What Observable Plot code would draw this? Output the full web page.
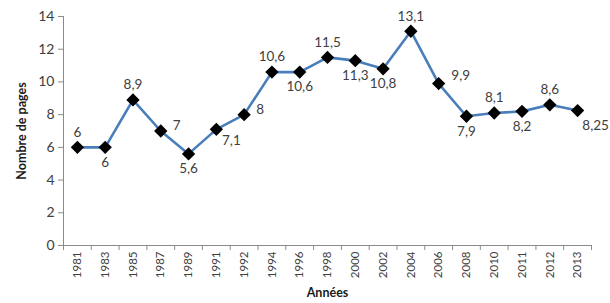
<!DOCTYPE html>
<html><head><meta charset="utf-8">
<script src="https://cdn.jsdelivr.net/npm/d3@7"></script>
<script src="https://cdn.jsdelivr.net/npm/@observablehq/plot@0.6"></script>
<style>
body{margin:0;background:#fff;overflow:hidden}
svg{font-family:Lato,"Open Sans",sans-serif}
g[aria-label="x-axis label"] text, g[aria-label="y-axis label"] text{font-weight:bold;fill:#1a1a1a;font-size:12.5px}
</style></head><body><div id="chart"></div>
<script>
const years = ["1981","1983","1985","1987","1989","1991","1992","1994","1996","1998","2000","2002","2004","2006","2008","2010","2011","2012","2013"];
const pages = [6,6,8.9,7,5.6,7.1,8,10.6,10.6,11.5,11.3,10.8,13.1,9.9,7.9,8.1,8.2,8.6,8.25];
const labelPlace = ["t","b","t","r","b","br","r","t","b","t","b","b","t","tr","b","t","b","t","bb"];
const yTicks = [0,2,4,6,8,10,12,14];

const offsets = {t:[0,-15], b:[0,15], r:[16,-5], br:[15,11], tr:[22,-8], bb:[18,15]};
const data = years.map((y,i)=>({i, year:y, v:pages[i], place:labelPlace[i]}));
const fmt = v => String(v).replace(".", ",");

const labelMarks = Object.entries(offsets).map(([k,[dx,dy]]) =>
  Plot.text(data.filter(d=>d.place===k), {x:"i", y:"v", text:d=>fmt(d.v), dx, dy, fontSize:13.5, fill:"#404040"}));

const chart = Plot.plot({
  width:610, height:303,
  marginLeft:63, marginRight:19, marginTop:16, marginBottom:58,
  style:{fontFamily:"Lato, 'Open Sans', sans-serif", overflow:"hidden"},
  x:{type:"linear", domain:[-0.5, years.length-0.5]},
  y:{domain:[0,14]},
  marks:[
    Plot.ruleY([0], {stroke:"#8a8a8a"}),
    Plot.ruleX([-0.5], {stroke:"#8a8a8a"}),
    Plot.axisY({ticks:yTicks, tickSize:5, tickPadding:4, stroke:"#8a8a8a", fill:"#404040", fontSize:14,
      label:"Nombre de pages", labelAnchor:"center", labelOffset:46, labelArrow:"none"}),
    Plot.axisX({ticks:d3.range(years.length+1).map(i=>i-0.5), tickSize:5, text:null, stroke:"#8a8a8a", label:null}),
    Plot.axisX({ticks:d3.range(years.length), tickSize:0, tickPadding:6, tickRotate:-90, tickFormat:i=>years[i],
      fill:"#404040", fontSize:11.5, label:"Années", labelAnchor:"center", labelOffset:51, labelArrow:"none"}),
    Plot.line(data, {x:"i", y:"v", stroke:"#4a7ebb", strokeWidth:2.6}),
    Plot.dot(data, {x:"i", y:"v", symbol:"diamond2", r:6, fill:"#000", stroke:"none"}),
    ...labelMarks
  ]
});
document.getElementById("chart").appendChild(chart);
</script></body></html>
